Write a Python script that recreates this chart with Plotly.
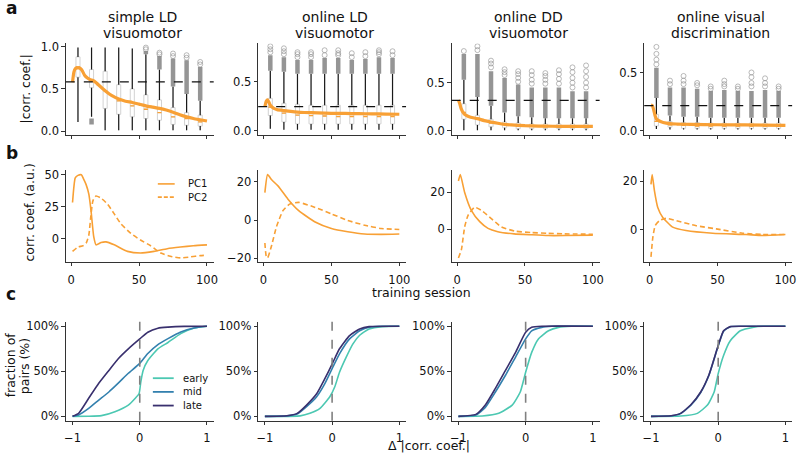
import plotly.graph_objects as go

W, H = 800, 458
FONT = "DejaVu Sans"
ORANGE = "#f8a035"
AXC = "#333333"
EARLY, MID, LATE = "#4cc8b2", "#3380ae", "#39306e"

TITLES = [("simple LD", "visuomotor"), ("online LD", "visuomotor"),
          ("online DD", "visuomotor"), ("online visual", "discrimination")]

# ---------------- row a: box statistics per training-session bin ----------------
BOX_SESSIONS = [5, 15, 25, 35, 45, 55, 65, 75, 85, 95]
A_Q1 = [
    [0.64, 0.515, 0.27, 0.20, 0.17, 0.15, 0.13, 0.08, 0.07, 0.06],
    [0.155, 0.09, 0.07, 0.07, 0.07, 0.07, 0.07, 0.07, 0.07, 0.07],
    [0.12, 0.06, 0.04, 0.03, 0.02, 0.02, 0.02, 0.02, 0.02, 0.02],
    [0.04, 0.03, 0.02, 0.02, 0.02, 0.02, 0.02, 0.02, 0.02, 0.02],
]
A_MED = [
    [0.76, 0.61, 0.48, 0.36, 0.30, 0.26, 0.22, 0.17, 0.15, 0.11],
    [0.24, 0.18, 0.16, 0.155, 0.15, 0.145, 0.145, 0.145, 0.145, 0.145],
    [0.19, 0.12, 0.08, 0.065, 0.05, 0.045, 0.04, 0.04, 0.04, 0.04],
    [0.08, 0.05, 0.045, 0.04, 0.04, 0.04, 0.04, 0.04, 0.04, 0.04],
]
A_Q3 = [
    [0.88, 0.73, 0.71, 0.55, 0.50, 0.43, 0.37, 0.28, 0.22, 0.19],
    [0.33, 0.28, 0.27, 0.26, 0.26, 0.26, 0.26, 0.26, 0.26, 0.26],
    [0.28, 0.16, 0.12, 0.09, 0.08, 0.07, 0.07, 0.07, 0.07, 0.07],
    [0.14, 0.08, 0.07, 0.07, 0.065, 0.065, 0.065, 0.065, 0.065, 0.065],
]
A_LOW = [
    [0.11, 0.17, 0.01, 0.01, 0.01, 0.01, 0.01, 0.01, 0.01, 0.01],
    [0.02, 0.01, 0.01, 0.01, 0.01, 0.01, 0.01, 0.01, 0.01, 0.01],
    [0.005, 0.005, 0.005, 0.005, 0.005, 0.005, 0.005, 0.005, 0.005, 0.005],
    [0.015, 0.01, 0.01, 0.01, 0.01, 0.01, 0.01, 0.01, 0.01, 0.01],
]
A_HIGH = [
    [0.99, 0.99, 0.99, 0.99, 0.98, 0.91, 0.73, 0.53, 0.44, 0.36],
    [0.61, 0.60, 0.58, 0.58, 0.58, 0.58, 0.58, 0.58, 0.58, 0.58],
    [0.53, 0.35, 0.26, 0.19, 0.15, 0.14, 0.13, 0.13, 0.13, 0.13],
    [0.28, 0.13, 0.12, 0.12, 0.11, 0.11, 0.11, 0.11, 0.11, 0.11],
]
# top of the dense run of outliers above the upper whisker (None = no outliers)
A_DENSE_TOP = [
    [None, None, None, None, None, 0.95, 0.89, 0.86, 0.84, 0.76],
    [0.77, 0.75, 0.72, 0.72, 0.74, 0.74, 0.72, 0.73, 0.75, 0.74],
    [0.80, 0.80, 0.62, 0.55, 0.48, 0.45, 0.45, 0.45, 0.41, 0.41],
    [0.54, 0.37, 0.37, 0.36, 0.34, 0.35, 0.34, 0.34, 0.35, 0.34],
]
# sparse individual outliers above the dense run
A_SPARSE = [
    [[], [], [], [], [], [0.97, 0.99], [0.91, 0.93], [0.89, 0.92], [0.87, 0.90], [0.79, 0.82]],
    [[0.80, 0.83, 0.86], [0.78, 0.81, 0.84], [0.75, 0.78, 0.80], [0.75, 0.78, 0.80],
     [0.77, 0.82], [0.77, 0.79, 0.82], [0.75, 0.79], [0.76, 0.80], [0.78, 0.80, 0.82], [0.77, 0.81]],
    [[0.83], [0.84, 0.88], [0.66, 0.70, 0.73], [0.58, 0.61, 0.64], [0.51, 0.55, 0.59, 0.62],
     [0.49, 0.53, 0.58, 0.62], [0.49, 0.53, 0.57, 0.60], [0.49, 0.54, 0.59, 0.63],
     [0.45, 0.50, 0.55, 0.61, 0.66], [0.45, 0.50, 0.56, 0.62, 0.68]],
    [[0.57, 0.61, 0.66, 0.72], [0.40, 0.43], [0.40, 0.43, 0.47], [0.39, 0.41], [0.36, 0.38],
     [0.38, 0.40, 0.43], [0.36, 0.38], [0.38, 0.41, 0.46, 0.50], [0.38, 0.41, 0.45], [0.36, 0.38]],
]
# low outliers (dense run) below the lower whisker: (box index, bottom, top)
A_LOW_OUT = [[(1, 0.08, 0.15)], [], [], []]

CHANCE = [0.585, 0.245, 0.315, 0.215]

A_MEAN_X = [
    [1, 2, 3, 4, 5, 6, 7, 8, 10, 12, 14, 16, 18, 20, 25, 30, 35, 40, 45, 50, 55, 60, 65, 70, 75, 80, 85, 90, 95, 100],
    [1, 2, 3, 4, 5, 6, 8, 10, 15, 20, 25, 30, 40, 50, 60, 70, 80, 90, 100],
    [1, 2, 3, 4, 5, 6, 8, 10, 15, 20, 25, 30, 35, 40, 50, 60, 70, 80, 90, 100],
    [1, 2, 3, 4, 5, 6, 8, 10, 15, 20, 30, 50, 70, 100],
]
A_MEAN_Y = [
    [0.58, 0.70, 0.74, 0.75, 0.75, 0.75, 0.74, 0.72, 0.66, 0.63, 0.61, 0.60, 0.58, 0.55, 0.48, 0.42,
     0.38, 0.355, 0.34, 0.32, 0.30, 0.285, 0.27, 0.25, 0.225, 0.195, 0.17, 0.15, 0.135, 0.12],
    [0.245, 0.30, 0.315, 0.29, 0.26, 0.245, 0.225, 0.215, 0.205, 0.197, 0.19, 0.186, 0.182, 0.178,
     0.176, 0.174, 0.172, 0.17, 0.168],
    [0.32, 0.28, 0.23, 0.20, 0.18, 0.165, 0.15, 0.14, 0.125, 0.105, 0.09, 0.077, 0.066, 0.06, 0.052,
     0.048, 0.046, 0.045, 0.044, 0.044],
    [0.22, 0.215, 0.18, 0.13, 0.10, 0.09, 0.078, 0.07, 0.06, 0.057, 0.054, 0.051, 0.049, 0.046],
]

# ---------------- row b: PC loadings over sessions ----------------
PC1_X = [
    [1, 3, 5, 7.5, 9, 11, 13, 14.6, 16.6, 18.3, 22, 25.6, 31.7, 41.5, 51, 61, 70.7, 80.5, 90, 100],
    [1, 3, 6, 10.8, 18, 25.9, 38, 50, 62, 74.4, 86.5, 100],
    [1, 2.4, 5.6, 10.5, 16.7, 22.8, 30, 42, 55, 67, 79, 100],
    [1, 1.9, 3.6, 6, 9.7, 17, 26.8, 46.5, 71, 83, 100],
]
PC1_Y = [
    [28.3, 47.5, 49.5, 50, 47, 42.3, 34.8, 22, 1.6, -4.8, -3, -2.5, -4.8, -9.9, -11.2, -9.9, -7.8, -6.5, -5.5, -4.8],
    [14.3, 23.7, 21, 17.7, 10.9, 4.9, -1, -4.4, -6.1, -7.3, -7.5, -7.3],
    [26, 29.5, 19.8, 10.1, 4, 0.35, -1.4, -2.6, -3.1, -3.5, -3.5, -3.3],
    [18.7, 22.7, 15.9, 9.2, 5.1, 1.1, -0.3, -1.4, -1.9, -2.3, -1.9],
]
PC2_X = [
    [1, 5, 8.7, 11, 13, 14.4, 16, 18.3, 22, 26.8, 31.7, 36.6, 44, 51, 58.5, 66, 73, 80.5, 88, 95, 100],
    [1, 2, 3, 5.8, 9.5, 14.3, 19.2, 25.9, 38, 50, 62, 74.4, 86.5, 100],
    [1, 3.2, 5.6, 8.1, 13, 17.9, 25.2, 32.6, 42.4, 54.7, 67, 79, 100],
    [1, 2.4, 4.1, 7.3, 12.2, 19.6, 34.3, 49, 68.6, 83, 100],
]
PC2_Y = [
    [-9.9, -6.5, -5.5, -3.5, 2.9, 17, 29.6, 33.4, 31.7, 27, 19.4, 11.7, 4.1, -1, -5.5, -11.2, -13.7, -15, -14.2, -13.2, -12.9],
    [-12, -18.9, -19.7, -13.7, -3.6, 4.9, 8.3, 9.2, 6.6, 3.2, -0.2, -2.7, -4.4, -4.9],
    [-15.6, -11.1, 1.2, 7.4, 11.8, 10.1, 5.7, 1.2, -1.1, -1.9, -2.3, -2.6, -2.8],
    [-11.1, -3, 1.7, 3.8, 4.7, 3.8, 1.7, 0.4, -1.4, -1.9, -1.9],
]

# ---------------- row c: cumulative distributions of change ----------------
C_EARLY_X = [
    [-1, -0.76, -0.57, -0.37, -0.17, -0.07, -0.01, 0.015, 0.05, 0.12, 0.27, 0.42, 0.61, 0.81, 1.0],
    [-1, -0.475, -0.33, -0.18, -0.034, 0.04, 0.11, 0.21, 0.31, 0.41, 0.55, 0.75, 1],
    [-1, -0.645, -0.4, -0.2, -0.08, 0, 0.09, 0.19, 0.34, 0.49, 0.68, 1],
    [-1, -0.56, -0.31, -0.16, -0.06, 0, 0.08, 0.18, 0.33, 0.53, 0.67, 1],
]
C_EARLY_Y = [
    [0, 0.1, 0.8, 5.2, 12.5, 19.8, 25.3, 38, 51, 62, 75, 82, 91.8, 98, 100],
    [0, 0.5, 3.3, 8.8, 21.7, 32.8, 49, 65.8, 80.5, 90, 97, 99.6, 100],
    [0, 0.3, 3.3, 12.5, 27, 49, 71, 86, 95, 98.8, 100, 100],
    [0, 0.3, 3.3, 12.5, 27, 47.4, 67.6, 84, 95, 99, 100, 100],
]
C_MID_X = [
    [-1, -0.91, -0.76, -0.61, -0.46, -0.32, -0.17, 0.0, 0.12, 0.27, 0.42, 0.61, 0.81, 1.0],
    [-1, -0.67, -0.52, -0.38, -0.23, -0.11, 0, 0.11, 0.26, 0.41, 0.55, 0.7, 1],
    [-1, -0.74, -0.6, -0.45, -0.3, -0.15, 0, 0.09, 0.24, 0.39, 1],
    [-1, -0.7, -0.56, -0.41, -0.26, -0.14, 0, 0.08, 0.18, 0.38, 1],
]
C_MID_Y = [
    [0, 1.5, 8.8, 18, 27, 36.8, 47.8, 58.8, 69.8, 79.7, 86.3, 93.6, 98, 100],
    [0, 0.5, 2.5, 10.7, 21.7, 36, 52.9, 69.4, 86, 95, 99, 100, 100],
    [0, 1.5, 9.9, 27, 45.6, 65.8, 86, 95, 98.8, 100, 100],
    [0, 0.6, 3.0, 12, 26.5, 45, 78, 94.5, 99.5, 100, 100],
]
C_LATE_X = [
    [-1, -0.91, -0.76, -0.61, -0.46, -0.32, -0.17, 0.0, 0.12, 0.27, 0.42, 0.66, 1.0],
    [-1, -0.67, -0.52, -0.38, -0.23, -0.11, 0, 0.11, 0.26, 0.41, 0.55, 1],
    [-1, -0.74, -0.6, -0.45, -0.3, -0.15, 0, 0.09, 0.24, 1],
    [-1, -0.7, -0.56, -0.41, -0.26, -0.14, 0, 0.08, 0.18, 0.38, 1],
]
C_LATE_Y = [
    [0, 3.3, 20, 36.8, 51, 64, 75, 86, 93.4, 97.8, 99, 99.9, 100],
    [0, 0.7, 3.3, 12.5, 25, 41.5, 58, 75, 89.7, 97, 99.6, 100],
    [0, 2.2, 12.5, 31, 51, 71, 93.3, 98.8, 100, 100],
    [0, 0.7, 3.3, 12.5, 27, 45.6, 78.6, 95, 99.6, 100, 100],
]

# ---------------- axes / ticks ----------------
A_YRANGE = [[-0.045, 1.04], [-0.043, 0.89], [-0.045, 0.91], [-0.037, 0.75]]
A_YTICKS = [[0, 0.5, 1.0], [0, 0.5], [0, 0.5], [0, 0.5]]
A_YTEXT = [["0.0", "0.5", "1.0"], ["0.0", "0.5"], ["0.0", "0.5"], ["0.0", "0.5"]]
B_YRANGE = [[-18.2, 53.4], [-21.9, 25.9], [-17.8, 31.7], [-13.2, 24.4]]
B_YTICKS = [[0, 25, 50], [-20, 0, 20], [0, 20], [0, 20]]
B_YTEXT = [["0", "25", "50"], ["\u221220", "0", "20"], ["0", "20"], ["0", "20"]]
SESSION_RANGE = [-3.95, 104.95]
SESSION_TICKS = [0, 50, 100]
SESSION_TEXT = ["0", "50", "100"]
C_XRANGE = [-1.1, 1.1]
C_XTICKS = [-1, 0, 1]
C_XTEXT = ["\u22121", "0", "1"]
C_YRANGE = [-5, 105]
C_YTICKS = [0, 50, 100]
C_YTEXT = ["0%", "50%", "100%"]

PC_LEGEND = [("PC1", "solid"), ("PC2", "dash")]
STAGE_LEGEND = [("early", EARLY), ("mid", MID), ("late", LATE)]

# layout in pixels
COL_LEFT = [64.3, 258.1, 453.1, 647.1]
COL_W = 149.0
ROWS = [(40, 133), (169, 262), (322.7, 423.3)]
BOX_W = 3.0
TICK_FS = 11.5
LABEL_FS = 12.5

fig = go.Figure()


def xd(px):
    return px / W


def yd(py):
    return 1 - py / H


def axname(r, c):
    k = r * 4 + c + 1
    return ("x" if k == 1 else f"x{k}"), ("y" if k == 1 else f"y{k}"), k


base = dict(showline=True, linecolor=AXC, linewidth=1, ticks="outside", ticklen=3.5,
            tickwidth=1, tickcolor=AXC, showgrid=False, zeroline=False, fixedrange=True,
            tickfont=dict(size=TICK_FS, color="#111", family=FONT))

shapes = []
for r in range(3):
    for c in range(4):
        xa, ya, k = axname(r, c)
        xkey = "xaxis" if k == 1 else f"xaxis{k}"
        ykey = "yaxis" if k == 1 else f"yaxis{k}"
        top, bot = ROWS[r]
        xdom = [xd(COL_LEFT[c]), xd(COL_LEFT[c] + COL_W)]
        ydom = [yd(bot), yd(top)]
        if r == 0:
            xr, xt, xtt, show = SESSION_RANGE, SESSION_TICKS, SESSION_TEXT, False
            yr, yt, ytt = A_YRANGE[c], A_YTICKS[c], A_YTEXT[c]
        elif r == 1:
            xr, xt, xtt, show = SESSION_RANGE, SESSION_TICKS, SESSION_TEXT, True
            yr, yt, ytt = B_YRANGE[c], B_YTICKS[c], B_YTEXT[c]
        else:
            xr, xt, xtt, show = C_XRANGE, C_XTICKS, C_XTEXT, True
            yr, yt, ytt = C_YRANGE, C_YTICKS, C_YTEXT
        fig.update_layout(**{
            xkey: dict(base, domain=xdom, range=xr, tickmode="array", tickvals=xt,
                       ticktext=xtt, showticklabels=show, anchor=ya,
                       ticklabelstandoff=(4 if r == 1 else 3)),
            ykey: dict(base, domain=ydom, range=yr, tickmode="array", tickvals=yt,
                       ticktext=ytt, anchor=xa),
        })

# ---------------- row a traces ----------------
for c in range(4):
    xa, ya, _ = axname(0, c)
    fig.add_trace(go.Box(
        x=BOX_SESSIONS, q1=A_Q1[c], median=A_MED[c], q3=A_Q3[c],
        lowerfence=A_LOW[c], upperfence=A_HIGH[c], width=BOX_W,
        line=dict(color="#d2d2d2", width=1), fillcolor="rgba(0,0,0,0)",
        boxpoints=False, whiskerwidth=0, showlegend=False, hoverinfo="skip",
        xaxis=xa, yaxis=ya))
    wx, wy = [], []
    for s, lo, q1, q3, hi in zip(BOX_SESSIONS, A_LOW[c], A_Q1[c], A_Q3[c], A_HIGH[c]):
        wx += [s, s, None, s, s, None]
        wy += [lo, q1, None, q3, hi, None]
    fig.add_trace(go.Scatter(x=wx, y=wy, mode="lines", line=dict(color="#1a1a1a", width=1.2),
                             showlegend=False, hoverinfo="skip", xaxis=xa, yaxis=ya))
    bx, by = [], []
    for s, hi, dt in zip(BOX_SESSIONS, A_HIGH[c], A_DENSE_TOP[c]):
        if dt is not None:
            bx += [s, s, None]
            by += [hi, dt, None]
    for (i, lo, hi) in A_LOW_OUT[c]:
        bx += [BOX_SESSIONS[i], BOX_SESSIONS[i], None]
        by += [lo, hi, None]
    fig.add_trace(go.Scatter(x=bx, y=by, mode="lines", line=dict(color="#959595", width=4.5),
                             showlegend=False, hoverinfo="skip", xaxis=xa, yaxis=ya))
    ox, oy = [], []
    for s, lst in zip(BOX_SESSIONS, A_SPARSE[c]):
        ox += [s] * len(lst)
        oy += lst
    fig.add_trace(go.Scatter(x=ox, y=oy, mode="markers",
                             marker=dict(symbol="circle-open", size=5, color="rgba(140,140,140,0.6)",
                                         line=dict(width=1)),
                             showlegend=False, hoverinfo="skip", xaxis=xa, yaxis=ya))
    mx, my = [], []
    for s, m in zip(BOX_SESSIONS, A_MED[c]):
        mx += [s - BOX_W / 2, s + BOX_W / 2, None]
        my += [m, m, None]
    fig.add_trace(go.Scatter(x=mx, y=my, mode="lines", line=dict(color=ORANGE, width=1.3),
                             showlegend=False, hoverinfo="skip", xaxis=xa, yaxis=ya))
    fig.add_trace(go.Scatter(x=A_MEAN_X[c], y=A_MEAN_Y[c], mode="lines",
                             line=dict(color=ORANGE, width=3.2, shape="spline", smoothing=0.6),
                             showlegend=False, hoverinfo="skip", xaxis=xa, yaxis=ya))
    shapes.append(dict(type="line", xref=f"{xa} domain", x0=0, x1=1, yref=ya,
                       y0=CHANCE[c], y1=CHANCE[c], layer="above",
                       line=dict(color="#111", width=1.3, dash="dash")))

# ---------------- row b traces ----------------
for c in range(4):
    xa, ya, _ = axname(1, c)
    fig.add_trace(go.Scatter(x=PC1_X[c], y=PC1_Y[c], mode="lines", name="PC1",
                             line=dict(color=ORANGE, width=1.6, shape="spline", smoothing=0.5),
                             showlegend=False, hoverinfo="skip", xaxis=xa, yaxis=ya))
    fig.add_trace(go.Scatter(x=PC2_X[c], y=PC2_Y[c], mode="lines", name="PC2",
                             line=dict(color=ORANGE, width=1.6, dash="5px,3px", shape="spline", smoothing=0.5),
                             showlegend=False, hoverinfo="skip", xaxis=xa, yaxis=ya))

# ---------------- row c traces ----------------
for c in range(4):
    xa, ya, _ = axname(2, c)
    for nm, xs, ys, col in [("early", C_EARLY_X, C_EARLY_Y, EARLY),
                            ("mid", C_MID_X, C_MID_Y, MID),
                            ("late", C_LATE_X, C_LATE_Y, LATE)]:
        fig.add_trace(go.Scatter(x=xs[c], y=ys[c], mode="lines", name=nm,
                                 line=dict(color=col, width=1.6, shape="spline", smoothing=0.5),
                                 showlegend=False, hoverinfo="skip", xaxis=xa, yaxis=ya))
    shapes.append(dict(type="line", xref=xa, x0=0, x1=0, yref=f"{ya} domain", y0=0, y1=1,
                       layer="above", line=dict(color="#808080", width=1.6, dash="dash")))

ann = []


def text(t, x, y, size, angle=0, anchor="center", bold=False):
    ann.append(dict(text=(f"<b>{t}</b>" if bold else t), x=xd(x), y=yd(y), xref="paper", yref="paper",
                    showarrow=False, textangle=angle, xanchor=anchor, yanchor="middle",
                    font=dict(size=size, color="#111", family=FONT)))


for c in range(4):
    cx = COL_LEFT[c] + COL_W / 2 + 2.5
    text(TITLES[c][0], cx, 13, 14)
    text(TITLES[c][1], cx, 29.5, 14)
for letter, py in [("a", 4), ("b", 151), ("c", 294.5)]:
    text(letter, 2, py, 17, anchor="left", bold=True)
text("|corr. coef.|", 24, 86, LABEL_FS, angle=-90)
text("corr. coef. (a.u.)", 28, 212, LABEL_FS, angle=-90)
text("fraction of", 8, 366, LABEL_FS, angle=-90)
text("pairs (%)", 23, 368, LABEL_FS, angle=-90)
text("training session", 423, 293, LABEL_FS)
text("\u0394 |corr. coef.|", 430, 448.5, LABEL_FS)

# hand-drawn legends (short line keys as in the reference)
for i, (nm, dash) in enumerate(PC_LEGEND):
    y = 182.7 + i * 13.4
    shapes.append(dict(type="line", xref="paper", yref="paper", x0=xd(157), x1=xd(174),
                       y0=yd(y), y1=yd(y), line=dict(color=ORANGE, width=1.6,
                                                     dash=("4px,2px" if dash == "dash" else "solid"))))
    text(nm, 185, y, 10, anchor="left")
for i, (nm, col) in enumerate(STAGE_LEGEND):
    y = 380 + i * 13.9
    shapes.append(dict(type="line", xref="paper", yref="paper", x0=xd(152), x1=xd(173),
                       y0=yd(y), y1=yd(y), line=dict(color=col, width=1.8)))
    text(nm, 180, y, 10, anchor="left")

fig.update_layout(
    width=W, height=H, margin=dict(l=0, r=0, t=0, b=0),
    paper_bgcolor="white", plot_bgcolor="white",
    font=dict(family=FONT, size=10, color="#111"),
    shapes=shapes, annotations=ann, showlegend=False,
)

fig.write_html("out.html", config={"displayModeBar": False},
               post_script="document.body.style.margin='0';document.body.style.overflow='hidden';")
